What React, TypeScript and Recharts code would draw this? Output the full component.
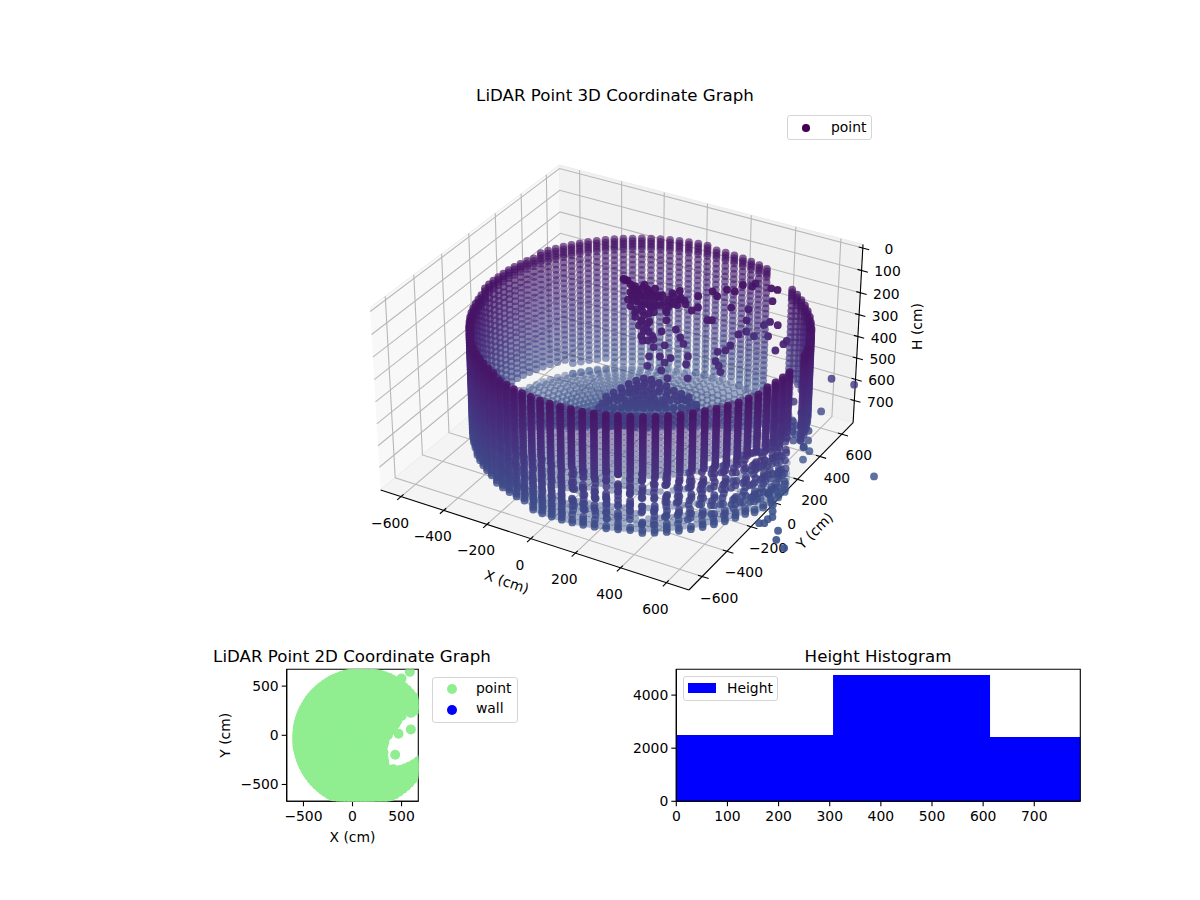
import React from 'react';
import { ScatterChart, Scatter, XAxis, YAxis, AreaChart, Area, ReferenceArea } from 'recharts';

// NOTE: the reference cloud holds about 9600 points that cannot be read one by one. The wall below is an
// estimate: a table built from read-off columns, rows and radii, thinned by hand-typed mask and inset lists
// that imitate the broken look of the lower wall. Only the clump, mound and loose points are read individually.

// ---------- data ----------
const azimuthsDeg = [-180,-176.4,-172.8,-169.2,-165.6,-162,-158.4,-154.8,-151.2,-147.6,-144,-140.4,-136.8,-133.2,-129.6,-126,-122.4,-118.8,-115.2,-111.6,-108,-104.4,-100.8,-97.2,-93.6,-90,-86.4,-82.8,-79.2,-75.6,-72,-68.4,-64.8,-61.2,-57.6,-54,-50.4,-46.8,-43.2,-39.6,-36,-32.4,-28.8,-25.2,-21.6,-18,-14.4,-10.8,-7.2,-3.6,0,3.6,7.2,10.8,14.4,18,21.6,25.2,28.8,32.4,36,39.6,43.2,46.8,50.4,54,57.6,61.2,64.8,68.4,72,75.6,79.2,82.8,86.4,90,93.6,97.2,100.8,104.4,108,111.6,115.2,118.8,122.4,126,129.6,133.2,136.8,140.4,144,147.6,151.2,154.8,158.4,162,165.6,169.2,172.8,176.4];
const wallRadius = [564,566,568,570,573,575,578,582,586,590,594,599,604,610,615,621,627,633,640,646,653,659,665,672,678,683,689,695,701,707,713,718,724,729,734,739,743,747,751,755,758,760,762,764,765,766,766,766,765,764,764,762,760,757,754,750,746,741,737,732,727,722,716,710,704,698,692,685,678,671,664,657,651,644,638,632,626,620,614,608,603,598,593,589,585,581,578,575,572,570,568,566,565,564,563,563,563,563,563,563];
const wallTop = [140,141,143,144,146,147,148,150,151,153,154,156,157,159,160,162,163,164,165,167,168,169,170,171,172,173,174,174,175,175,176,176,176,176,176,176,176,175,175,174,174,173,172,171,171,170,168,168,166,165,164,162,161,160,158,157,156,154,153,151,150,148,147,145,144,142,141,140,138,137,136,135,134,133,132,131,130,130,129,129,129,128,128,128,128,128,128,129,129,129,130,131,132,132,133,134,135,136,138,138];
const wallBottomBySector = [650,640,645,655,670,685,695,702,705,710,715,720,725,730,730,730,720,700,680,660];
// depth to which the gaps between near columns look closed, per 18-degree sector
const gapFillBySector = [0,0,0,0,580,540,500,460,400,340,0,0,0,0,0,0,0,0,0,0];
// F full column, L slightly broken low down, B broken low down, U upper part only, N no wall
const columnKinds = 'FFFFFFFFFFFFFFFFFFFFLLLLLLLLLBBBBBBBBBBBBBBBBBBBBBNNUUUUUUUUUUUUNNNFFFFFFFFFFFFFFFFFFFFFFFFFFFFFFFFF';
const rowHeights = [12,24,36,48,60,72,84,96,108,120,132,144,156,168,180,192,204,216,228,240,252,264,276,288,300,312,324,336,348,360,372,384,396,408,420,432,444,456,468,480,492,504,516,528,540,552,564,576,588,600,612,624,636,648,660,672,684,696,708,720,732,744,756];
const lowerRowMask = ['110101101110110111','101110110101101011','111011010110111011','100110111010110111','110111001101101101','101101110110011111','111010101101110111','011101101011011011'];
const lowerInset = [0,8,18,4,26,12,0,20,6,15,32,2];
const floorRings = [0,30,60,90,120,150,180,210,240,270,300,330,360,390,420,450,480,510,540,570,600,630,660,690,720,750];
const floorH = 735;
const holeX = [315,340,510,640,800,800,640,520,420,350];
const holeY = [-120,-340,-340,-280,-170,260,250,210,90,-30];
const spots2DX = [435,470,595,595,585,500];
const spots2DY = [-197,15,60,228,645,578];
// clump on the far wall: distance along the wall (cm), height (cm)
const clumpAlong = [20,59,97,46,85,117,136,174,85,123,59,97,136,187,219,245,264,315,373,392,431,463,290,315,187,117,85,104,130,85,168,226,245,181,258,136,117,162,206,277,270,110,181,168,399,431,450,482,514,546,514,520,450,373,354,495,533,546,617,610,636,610,642,585,604,668,636,392,405,412,194,277,681,75,110,150,40,70,105,140,30,66,100,210,240,12,28,40,55,70,90,110,130,150,170,195,215,240,260,50,70,95,115,140,165,195,40,65,90,115,60,85,110,75,95,115,135,110,90,120,145,100,75,60,210,230,185];
const clumpH = [230,259,252,304,304,311,333,333,348,356,378,393,378,378,333,311,341,304,282,304,274,282,370,356,415,422,422,452,489,489,467,459,496,533,526,541,585,585,593,585,622,630,615,652,563,556,533,481,467,489,415,363,356,415,415,252,259,245,326,267,274,422,437,437,489,526,556,607,630,659,689,689,511,290,285,300,285,275,270,270,320,325,330,290,280,225,232,250,270,280,265,275,300,310,300,320,305,320,325,320,330,340,345,350,345,350,350,365,375,385,400,415,430,440,465,470,505,510,510,290,345,300,300,295,340,345,370];
// mound seen over the front rim
const moundAlong = [-60,-30,0,30,60,90,120,150,180,210,240,270,0,30,60,90,120,150,180,60,90,120,-45,-15,15,45,75,105,135,165,195,225,255,-75,-50,-25,5,35,65,95,125,155,185,215,245,275,300,-90,-60,-30,0,30,60,90,120,150,180,210,240,270,300,20,50,80,110,140,170,40,70,100,130];
const moundH = [530,510,490,470,455,445,450,465,480,500,515,530,530,510,490,480,490,505,525,525,520,530,545,545,545,545,545,545,545,545,545,545,545,560,550,530,510,490,475,465,470,490,505,525,540,555,565,580,580,580,580,580,580,580,580,580,580,580,580,580,580,560,560,560,560,560,560,510,500,505,515];
// loose points: along, depth, height
const strayAlong = [926,835,800,1000,  649,681,649,681,649,681,713,649,681,713,745,660,686,713,745,729,752,636,691,728,569,587,587,587,569,604,595,623,533,553,620,720];
const strayDepth = [0,0,0,250, 100,100,100,100,100,100,100,100,100,100,100,100,100,100,100,100,100,100,100,100,500,500,500,500,500,600,650,700,550,550,300,200];
const strayH = [471,444,595,744, 505,490,572,580,543,607,542,610,630,600,625,660,670,668,670,700,720,640,640,760,667,718,748,775,785,773,782,787,771,771,700,640];

const xTicks3D = [-600,-400,-200,0,200,400,600];
const yTicks3D = [-600,-400,-200,0,200,400,600];
const hTicks3D = [0,100,200,300,400,500,600,700];
const ticks2D = [-500,0,500];
const histEdges = [0,306.5,613.5,790];
const histCounts = [2497,4757,2422,2422];
const histXTicks = [0,100,200,300,400,500,600,700];
const histYTicks = [0,2000,4000];
const viridisStops = ['#440154','#471365','#482475','#463480','#414487','#3b528b'];

// ---------- 3D projection ----------
const ELEV = 33*Math.PI/180;
const XL = 697, YL = 705, H_TOP = -16, H_BOT = 806;
const BOX = [1.1905, 1.1905, 0.78];
const W = [Math.cos(ELEV)*0.5, -Math.cos(ELEV)*Math.sqrt(3)/2, Math.sin(ELEV)];
const U = [Math.sqrt(3)/2, 0.5, 0];
const V = [W[1]*U[2]-W[2]*U[1], W[2]*U[0]-W[0]*U[2], W[0]*U[1]-W[1]*U[0]];
const E = [BOX[0]/2+10*W[0], BOX[1]/2+10*W[1], BOX[2]/2+10*W[2]];
function project(x: number, y: number, h: number) {
  const p = [(x+XL)/(2*XL)*BOX[0]-E[0], (y+YL)/(2*YL)*BOX[1]-E[1], (h-H_BOT)/(H_TOP-H_BOT)*BOX[2]-E[2]];
  const dot = (a: number[]) => a[0]*p[0]+a[1]*p[1]+a[2]*p[2];
  const z = -dot(W);
  return { px: dot(U)/z, py: dot(V)/z, depth: z };
}
const L = project(-XL,-YL,H_TOP), R = project(XL,YL,H_TOP), B = project(-XL,YL,H_TOP), F = project(XL,-YL,H_BOT);
const ax = (863-370)/(R.px-L.px), bx = 370-ax*L.px;
const ay = (590-165)/(F.py-B.py), by = 165-ay*B.py;
const xDomain = (w: number) => [(0-bx)/ax, (w-bx)/ax];
const yDomain = (h: number) => [(h-by)/ay, (0-by)/ay];

const pointColor = (h: number) => {
  const t = Math.max(0, Math.min(0.9999, h/720))*(viridisStops.length-1);
  const i = Math.floor(t), f = t-i;
  const c = (s: string, k: number) => parseInt(s.slice(k,k+2),16);
  const a = viridisStops[i], b = viridisStops[i+1];
  return `rgb(${[1,3,5].map(k => Math.round(c(a,k)+(c(b,k)-c(a,k))*f)).join(',')})`;
};

function inHole(x: number, y: number) {
  let inside = false;
  for (let i = 0, j = holeX.length-1; i < holeX.length; j = i++) {
    if ((holeY[i] > y) !== (holeY[j] > y) && x < (holeX[j]-holeX[i])*(y-holeY[i])/(holeY[j]-holeY[i])+holeX[i]) inside = !inside;
  }
  return inside;
}

// ---------- tables built from the arrays ----------
type P = { x: number; y: number; h: number };
const wallPts: P[] = [];
azimuthsDeg.forEach((deg, col) => {
  const kind = columnKinds[col];
  if (kind === 'N') return;
  const a = deg*Math.PI/180;
  const farSide = Math.cos(a+Math.PI/3) < 0;
  const bottom = wallBottomBySector[Math.floor(col/5)];
  rowHeights.forEach((h, row) => {
    if (h < wallTop[col] || h > bottom) return;
    if (kind === 'U' && h > 560) return;
    if (farSide && row%2 === 1 && h > wallTop[col]+48) return;
    let r = wallRadius[col];
    const lower = row-36;
    if ((kind === 'B' || kind === 'L') && lower >= 0 && h < bottom-24) {
      const off = lowerRowMask[col%8][(lower+col*5)%18] === '0';
      if (off && lower%2 === 0 && kind === 'B') return;
      r -= lowerInset[(col*5+row)%12]*(kind === 'B' ? 1 : 0.2);
    }
    wallPts.push({ x: r*Math.cos(a), y: r*Math.sin(a), h });
  });
});
// points seen between the near columns
const betweenPts: P[] = [];
azimuthsDeg.forEach((deg, col) => {
  const kind = columnKinds[col];
  if (kind !== 'B' && kind !== 'L') return;
  const a = (deg+1.8)*Math.PI/180;
  const sector = Math.floor(col/5);
  const bottom = wallBottomBySector[sector];
  rowHeights.forEach((h, row) => {
    if (h < wallTop[col] || h > bottom || row%2 === 1) return;
    const nearRim = h > bottom-90;
    if (h > gapFillBySector[sector] && !nearRim && (row%6 !== 0 || lowerRowMask[(col+3)%8][row%18] === '0')) return;
    const r = wallRadius[col]-6;
    betweenPts.push({ x: r*Math.cos(a), y: r*Math.sin(a), h });
  });
});
const floorPts: P[] = [];
azimuthsDeg.forEach((deg, col) => {
  const a = deg*Math.PI/180;
  [...floorRings, wallRadius[col]].forEach(r => {
    if (r > wallRadius[col]) return;
    const x = r*Math.cos(a), y = r*Math.sin(a);
    if (!inHole(x,y)) floorPts.push({ x, y, h: floorH });
  });
});
const chord = (s: number, d: number) => ({ x: 0.866*s+0.5*d, y: 0.5*s-0.866*d });
const clumpPts: P[] = clumpAlong.map((s,i) => ({ ...chord(s,-420), h: clumpH[i] }));
const moundPts: P[] = moundAlong.map((s,i) => ({ ...chord(s,0), h: moundH[i] }));
const strayPts: P[] = strayAlong.map((s,i) => ({ ...chord(s,strayDepth[i]), h: strayH[i] }));
const farFloorPts = floorPts.filter(p => 0.5*p.x-0.866*p.y < -100);

const cloud = [
  ...wallPts.map(p => ({ ...p, boost: 0, tint: 1, rad: 3.9 })),
  ...betweenPts.map(p => ({ ...p, boost: -0.42, tint: 1.6, rad: 3.2 })),
  ...farFloorPts.map(p => ({ ...p, boost: -0.12, tint: 1, rad: 3.9 })),
  ...strayPts.map(p => ({ ...p, boost: 0.1, tint: 1, rad: 3.9 })),
  ...moundPts.map(p => ({ ...p, boost: 0.45, tint: 1, rad: 3.9 })),
  ...clumpPts.map(p => ({ ...p, boost: 0.5, tint: 0.55, rad: 3.9 })),
].map(p => {
  const q = project(p.x,p.y,p.h);
  return { ...q, ...p };
});
const depths = cloud.map(p => p.depth);
const dMin = Math.min(...depths), dMax = Math.max(...depths);
const cloudRows = cloud
  .map(p => ({ ...p, fill: pointColor(p.h*p.tint), alpha: Math.min(0.95, 0.52+0.42*(dMax-p.depth)/(dMax-dMin)+p.boost) }))
  .sort((a,b) => b.depth-a.depth);

const disk = [...floorPts.map(p => ({ x: p.x, y: p.y })), ...spots2DX.map((x,i) => ({ x, y: spots2DY[i] }))];
const wallSeries2D: { x: number; y: number }[] = [];
const histRows = histEdges.map((h,i) => ({ h, count: histCounts[i] }));

// ---------- 3D frame ----------
const seg = (...pts: number[][]) => pts.map(([x,y,h]) => project(x,y,h));
const panes = [
  { pts: seg([-XL,-YL,H_TOP],[-XL,YL,H_TOP],[-XL,YL,H_BOT],[-XL,-YL,H_BOT]), fill: '#f8f8f8' },
  { pts: seg([-XL,YL,H_TOP],[XL,YL,H_TOP],[XL,YL,H_BOT],[-XL,YL,H_BOT]), fill: '#f1f1f1' },
  { pts: seg([-XL,-YL,H_BOT],[-XL,YL,H_BOT],[XL,YL,H_BOT],[XL,-YL,H_BOT]), fill: '#f4f4f4' },
];
const gridLines = [
  ...xTicks3D.map(t => seg([t,-YL,H_BOT],[t,YL,H_BOT],[t,YL,H_TOP])),
  ...yTicks3D.map(t => seg([XL,t,H_BOT],[-XL,t,H_BOT],[-XL,t,H_TOP])),
  ...hTicks3D.map(t => seg([XL,YL,t],[-XL,YL,t],[-XL,-YL,t])),
];
const axisLines = [
  seg([-XL,-YL,H_BOT],[XL,-YL,H_BOT]),
  seg([XL,-YL,H_BOT],[XL,YL,H_BOT]),
  seg([XL,YL,H_BOT],[XL,YL,H_TOP]),
  ...xTicks3D.map(t => seg([t,-YL+18,H_BOT],[t,-YL-28,H_BOT])),
  ...yTicks3D.map(t => seg([XL-18,t,H_BOT],[XL+28,t,H_BOT])),
  ...hTicks3D.map(t => seg([XL-18,YL,t],[XL+28,YL,t])),
];
const minus = (v: number) => String(v).replace('-', '\u2212');
const FONT = '"DejaVu Sans"';
const labelSets = [
  { rows: xTicks3D.map(t => ({ ...project(t,-YL,H_BOT), label: minus(t) })), dx: -11, dy: 26, rot: 0, size: 13.9 },
  { rows: yTicks3D.map(t => ({ ...project(XL,t,H_BOT), label: minus(t) })), dx: 17, dy: 21, rot: 0, size: 13.9 },
  { rows: hTicks3D.map(t => ({ ...project(XL,YL,t), label: minus(t) })), dx: 26, dy: 1, rot: 0, size: 13.9 },
  { rows: [{ ...project(0,-YL,H_BOT), label: 'X (cm)' }], dx: -24, dy: 43, rot: 19, size: 13.9 },
  { rows: [{ ...project(XL,0,H_BOT), label: 'Y (cm)' }], dx: 40, dy: 28, rot: -45, size: 13.9 },
  { rows: [{ ...project(XL,YL,400), label: 'H (cm)' }], dx: 59, dy: -10, rot: -90, size: 13.9 },
];

const noDot = () => <g />;
const tickStyle = { fontSize: 13.9, fill: '#000', fontFamily: FONT };
const axisLine = { stroke: '#000', strokeWidth: 1.1 };
const tickLine = { stroke: '#000', strokeWidth: 1.1 };

const Title = ({ x, y, children }: any) => (
  <div style={{ position: 'absolute', left: x-250, top: y-11, width: 500, height: 24, lineHeight: '24px', textAlign: 'center', fontSize: 16.67, whiteSpace: 'nowrap' }}>{children}</div>
);
const LegendBox = ({ l, t, w, h }: any) => (
  <div style={{ position: 'absolute', left: l, top: t, width: w, height: h, boxSizing: 'border-box', border: '1px solid #d5d5d5', borderRadius: 3, background: 'rgba(255,255,255,0.8)' }} />
);
const LegendDot = ({ x, y, r, fill }: any) => (
  <div style={{ position: 'absolute', left: x-r, top: y-r, width: 2*r, height: 2*r, borderRadius: '50%', background: fill }} />
);
const LegendText = ({ x, y, children }: any) => (
  <div style={{ position: 'absolute', left: x, top: y-10, height: 20, lineHeight: '20px', fontSize: 13.9 }}>{children}</div>
);

export default function App() {
  return (
    <div style={{ position: 'absolute', left: 0, top: 0, width: 1200, height: 900, background: '#fff', fontFamily: FONT, color: '#000', overflow: 'hidden' }}>
      <div style={{ position: 'absolute', left: 0, top: 0 }}>
        <ScatterChart width={1200} height={900} margin={{ top: 0, right: 0, bottom: 0, left: 0 }}>
          <XAxis type="number" dataKey="px" domain={xDomain(1200)} hide />
          <YAxis type="number" dataKey="py" domain={yDomain(900)} hide />
          {panes.map((p,i) => (
            <Scatter key={`pane${i}`} data={p.pts} line={{ fill: p.fill, stroke: '#ececec', strokeWidth: 1 }} shape={noDot} isAnimationActive={false} />
          ))}
          {gridLines.map((g,i) => (
            <Scatter key={`grid${i}`} data={g} line={{ stroke: '#b8b8b8', strokeWidth: 1.1 }} shape={noDot} isAnimationActive={false} />
          ))}
          {axisLines.map((g,i) => (
            <Scatter key={`axis${i}`} data={g} line={{ stroke: '#000', strokeWidth: 1.1 }} shape={noDot} isAnimationActive={false} />
          ))}
          {labelSets.map((s,i) => (
            <Scatter key={`labels${i}`} data={s.rows} isAnimationActive={false} shape={(p: any) => {
              const tx = p.cx+s.dx, ty = p.cy+s.dy;
              return <text x={tx} y={ty} textAnchor="middle" dominantBaseline="central" fontFamily={FONT} fontSize={s.size} fill="#000" transform={s.rot ? `rotate(${s.rot} ${tx} ${ty})` : undefined}>{(p.payload ?? p).label}</text>;
            }} />
          ))}
        </ScatterChart>
      </div>
      <div style={{ position: 'absolute', left: 0, top: 0 }}>
        <ScatterChart width={879} height={900} margin={{ top: 0, right: 0, bottom: 0, left: 0 }}>
          <XAxis type="number" dataKey="px" domain={xDomain(879)} hide />
          <YAxis type="number" dataKey="py" domain={yDomain(900)} hide />
          <Scatter name="point" data={cloudRows} isAnimationActive={false} shape={(p: any) => {
            const d = p.payload ?? p;
            return <circle cx={p.cx} cy={p.cy} r={d.rad} fill={d.fill} fillOpacity={d.alpha} />;
          }} />
        </ScatterChart>
      </div>
      <Title x={615} y={95}>LiDAR Point 3D Coordinate Graph</Title>
      <LegendBox l={787} t={115} w={85} h={25} />
      <LegendDot x={806} y={128} r={3.8} fill="#440154" />
      <LegendText x={831} y={127}>point</LegendText>

      <Title x={352} y={656}>LiDAR Point 2D Coordinate Graph</Title>
      <div style={{ position: 'absolute', left: 200, top: 650 }}>
        <ScatterChart width={240} height={210} margin={{ top: 19.3, right: 21.7, bottom: 0, left: 0 }}>
          <XAxis type="number" dataKey="x" domain={[-671,671]} ticks={ticks2D} allowDataOverflow height={58.7} tick={tickStyle} tickFormatter={minus} axisLine={axisLine} tickLine={tickLine} tickSize={5} tickMargin={5}
            label={{ value: 'X (cm)', position: 'insideBottom', offset: 18, style: { fontSize: 13.9, fontFamily: FONT, fill: '#000' } }} />
          <YAxis type="number" dataKey="y" domain={[-671,671]} ticks={ticks2D} allowDataOverflow width={86.7} tick={tickStyle} tickFormatter={minus} axisLine={axisLine} tickLine={tickLine} tickSize={5} tickMargin={3}
            label={{ value: 'Y (cm)', angle: -90, position: 'insideLeft', offset: 25, style: { fontSize: 13.9, fontFamily: FONT, fill: '#000', textAnchor: 'middle' } }} />
          <Scatter name="point" data={disk} isAnimationActive={false} shape={(p: any) => <circle cx={p.cx} cy={p.cy} r={5} fill="#90ee90" />} />
          <Scatter name="wall" data={wallSeries2D} fill="#0000ff" isAnimationActive={false} />
          <ReferenceArea x1={-671} x2={671} y1={-671} y2={671} fill="none" fillOpacity={0} stroke="#000" strokeWidth={1.1} ifOverflow="visible" />
        </ScatterChart>
      </div>
      <LegendBox l={431.5} t={676.5} w={86} h={46} />
      <LegendDot x={451.7} y={689} r={5} fill="#90ee90" />
      <LegendDot x={451.7} y={710} r={5} fill="#0000ff" />
      <LegendText x={476} y={688}>point</LegendText>
      <LegendText x={476} y={708}>wall</LegendText>

      <Title x={878} y={656}>Height Histogram</Title>
      <div style={{ position: 'absolute', left: 620, top: 650 }}>
        <AreaChart width={480} height={210} data={histRows} margin={{ top: 19.3, right: 19.7, bottom: 0, left: 0 }}>
          <XAxis type="number" dataKey="h" domain={[0,790]} ticks={histXTicks} height={58.7} tick={tickStyle} axisLine={axisLine} tickLine={tickLine} tickSize={5} tickMargin={5} interval={0} />
          <YAxis type="number" domain={[0,4972]} ticks={histYTicks} width={56.3} tick={tickStyle} axisLine={axisLine} tickLine={tickLine} tickSize={5} tickMargin={3} interval={0} />
          <Area type="stepAfter" dataKey="count" name="Height" stroke="none" fill="#0000ff" fillOpacity={1} dot={false} activeDot={false} isAnimationActive={false} />
          <ReferenceArea x1={0} x2={790} y1={0} y2={4972} fill="none" fillOpacity={0} stroke="#000" strokeWidth={1.1} ifOverflow="visible" />
        </AreaChart>
      </div>
      <LegendBox l={683} t={676} w={95} h={25} />
      <div style={{ position: 'absolute', left: 688, top: 683, width: 28, height: 10, background: '#0000ff' }} />
      <LegendText x={727} y={688}>Height</LegendText>
    </div>
  );
}
